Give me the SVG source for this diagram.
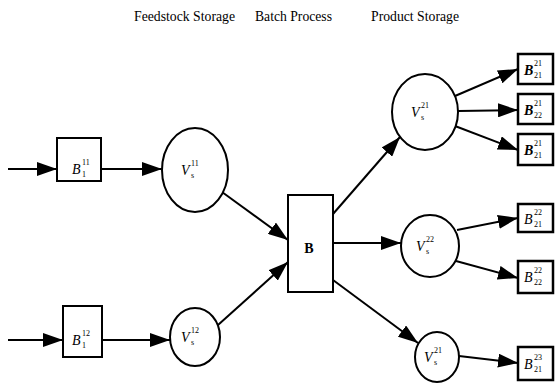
<svg xmlns="http://www.w3.org/2000/svg" width="557" height="385" viewBox="0 0 557 385">
<style>
.t{font-family:"Liberation Serif","Times New Roman",serif;font-size:14px;fill:#000}
.n{fill:#fff;stroke:#000;stroke-width:2}
.r{fill:#fff;stroke:#000;stroke-width:2.5}
.l{font-family:"Liberation Serif","Times New Roman",serif;font-style:italic;font-size:14px;fill:#000}
.b{font-weight:bold}
.s{font-family:"Liberation Serif","Times New Roman",serif;font-size:8px;fill:#000}
.c{stroke:#000;stroke-width:2;fill:none;marker-end:url(#ah)}
</style>
<defs>
<marker id="ah" markerWidth="10" markerHeight="7" refX="10" refY="3.5" orient="auto" markerUnits="strokeWidth">
<path d="M0,0 L10,3.5 L0,7 Z" fill="#000"/>
</marker>
</defs>
<rect width="557" height="385" fill="#fff"/>
<text class="t" x="134" y="21" textLength="101" lengthAdjust="spacingAndGlyphs">Feedstock Storage</text>
<text class="t" x="255" y="21" textLength="77" lengthAdjust="spacingAndGlyphs">Batch Process</text>
<text class="t" x="371" y="21" textLength="88" lengthAdjust="spacingAndGlyphs">Product Storage</text>
<g id="connectors">
<line class="c" x1="8" y1="169" x2="57" y2="169"/>
<line class="c" x1="102" y1="169" x2="162" y2="169"/>
<line class="c" x1="222" y1="192" x2="288" y2="240"/>
<line class="c" x1="8" y1="340" x2="63" y2="340"/>
<line class="c" x1="102" y1="340" x2="170" y2="340"/>
<line class="c" x1="218" y1="325" x2="288" y2="262"/>
<line class="c" x1="333" y1="214" x2="400" y2="137"/>
<line class="c" x1="333" y1="243" x2="401" y2="243"/>
<line class="c" x1="333" y1="280" x2="418" y2="343"/>
<line class="c" x1="455" y1="96" x2="518" y2="69"/>
<line class="c" x1="458" y1="111" x2="518" y2="110"/>
<line class="c" x1="455" y1="126" x2="518" y2="150"/>
<line class="c" x1="457" y1="230" x2="518" y2="218"/>
<line class="c" x1="456" y1="261" x2="518" y2="278"/>
<line class="c" x1="459" y1="356" x2="518" y2="363"/>
</g>
<g id="B11"><rect class="n" x="57" y="138" width="44" height="43"/><text class="l" x="72" y="174">B</text><text class="s" x="82" y="177">1</text><text class="s" x="82" y="165">11</text></g>
<g id="V11"><ellipse class="n" cx="195" cy="170" rx="33" ry="42"/><text class="l" x="181" y="175">V</text><text class="s" x="191" y="178">s</text><text class="s" x="191" y="166">11</text></g>
<g id="B12"><rect class="n" x="63" y="306" width="39" height="51"/><text class="l" x="72" y="345">B</text><text class="s" x="82" y="348">1</text><text class="s" x="82" y="336">12</text></g>
<g id="V12"><ellipse class="n" cx="195" cy="337" rx="25" ry="29"/><text class="l" x="181" y="342">V</text><text class="s" x="191" y="345">s</text><text class="s" x="191" y="333">12</text></g>
<g id="B"><rect class="n" x="288" y="195" width="45" height="97"/><text class="t b" x="309" y="253" text-anchor="middle">B</text></g>
<g id="V21"><ellipse class="n" cx="425" cy="112" rx="33" ry="38"/><text class="l" x="411" y="117">V</text><text class="s" x="421" y="120">s</text><text class="s" x="421" y="108">21</text></g>
<g id="V22"><ellipse class="n" cx="430" cy="246" rx="29" ry="31"/><text class="l" x="416" y="251">V</text><text class="s" x="426" y="254">s</text><text class="s" x="426" y="242">22</text></g>
<g id="V23"><ellipse class="n" cx="437" cy="357" rx="22" ry="25"/><text class="l" x="424" y="362">V</text><text class="s" x="434" y="365">s</text><text class="s" x="434" y="353">21</text></g>
<g id="B2121"><rect class="r" x="518" y="54" width="35" height="30"/><text class="l b" x="524" y="75">B</text><text class="s" x="534" y="78">21</text><text class="s" x="534" y="66">21</text></g>
<g id="B2122"><rect class="r" x="518" y="94" width="35" height="30"/><text class="l b" x="524" y="115">B</text><text class="s" x="534" y="118">22</text><text class="s" x="534" y="106">21</text></g>
<g id="B2123"><rect class="r" x="518" y="134" width="35" height="31"/><text class="l b" x="524" y="155">B</text><text class="s" x="534" y="158">21</text><text class="s" x="534" y="146">21</text></g>
<g id="B2221"><rect class="r" x="518" y="204" width="35" height="28"/><text class="l" x="524" y="224">B</text><text class="s" x="534" y="227">21</text><text class="s" x="534" y="215">22</text></g>
<g id="B2222"><rect class="r" x="518" y="261" width="35" height="32"/><text class="l" x="524" y="282">B</text><text class="s" x="534" y="285">22</text><text class="s" x="534" y="273">22</text></g>
<g id="B2321"><rect class="r" x="518" y="347" width="35" height="33"/><text class="l" x="524" y="369">B</text><text class="s" x="534" y="372">21</text><text class="s" x="534" y="360">23</text></g>
</svg>
